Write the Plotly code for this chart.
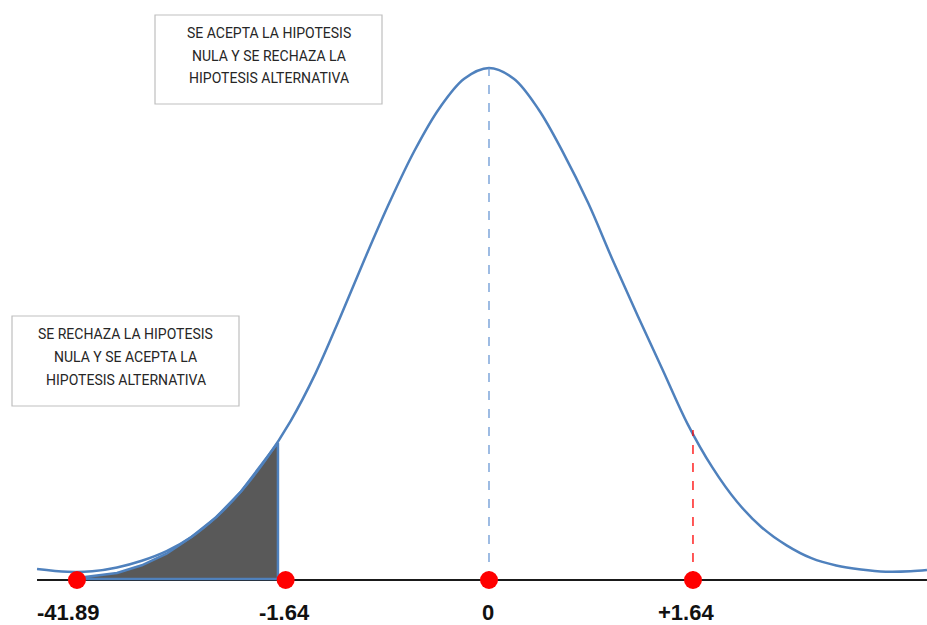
import plotly.graph_objects as go

# ---- data (x in standard-score units, y as density) ----
curve_x = [-3.645, -3.4, -3.2, -3.0, -2.8, -2.6, -2.4, -2.2, -2.0, -1.8,
           -1.6, -1.4, -1.2, -1.0, -0.8, -0.6, -0.4, -0.2, 0.0, 0.2,
           0.4, 0.6, 0.8, 1.0, 1.2, 1.4, 1.6, 1.8, 2.0, 2.2,
           2.4, 2.6, 2.8, 3.0, 3.2, 3.4, 3.532]
curve_y = [0.0086, 0.0064, 0.0068, 0.0098, 0.0150, 0.0225, 0.0335, 0.0490, 0.0690, 0.0940,
           0.1240, 0.1610, 0.2050, 0.2510, 0.2950, 0.3350, 0.3680, 0.3910, 0.3994, 0.3910,
           0.3670, 0.3330, 0.2940, 0.2490, 0.2060, 0.1640, 0.1220, 0.0880, 0.0610, 0.0410,
           0.0270, 0.0170, 0.0113, 0.0082, 0.0065, 0.0068, 0.0078]

shade_x = [-3.323, -3.0, -2.8, -2.6, -2.4, -2.2, -2.0, -1.8, -1.702, -1.702, -3.323]
shade_y = [0.0016, 0.0055, 0.0115, 0.0205, 0.0335, 0.0490, 0.0690, 0.0940, 0.1070, 0.0008, 0.0008]

point_x = [-3.323, -1.64, 0.0, 1.645]
point_labels = ["-41.89", "-1.64", "0", "+1.64"]
peak_y = 0.3994
crit_y = 0.1170

box_accept = ["SE ACEPTA LA HIPOTESIS", "NULA Y SE RECHAZA LA", "HIPOTESIS ALTERNATIVA"]
box_reject = ["SE RECHAZA LA HIPOTESIS", "NULA Y SE ACEPTA LA", "HIPOTESIS ALTERNATIVA"]

BLUE = "#4F81BD"
W, H = 927, 625
PX_PER_Z = 124.0
Z0_PX = 489.0
Y_PER_PX = 0.00078
BASE_PX = 580.0

x_range = [(0 - Z0_PX) / PX_PER_Z, (W - Z0_PX) / PX_PER_Z]
y_range = [(BASE_PX - H) * Y_PER_PX, BASE_PX * Y_PER_PX]

fig = go.Figure()

# shaded rejection region
fig.add_trace(go.Scatter(x=shade_x, y=shade_y, fill="toself", fillcolor="#595959",
                         mode="lines", line=dict(color=BLUE, width=2.5),
                         hoverinfo="skip", showlegend=False))

# bell curve
fig.add_trace(go.Scatter(x=curve_x, y=curve_y, mode="lines",
                         line=dict(color=BLUE, width=2.5, shape="spline", smoothing=1.0),
                         showlegend=False))

# dashed guide lines
fig.add_trace(go.Scatter(x=[point_x[2], point_x[2]], y=[0, peak_y], mode="lines",
                         line=dict(color="#6A98D4", width=1.3, dash="dash"), showlegend=False))
fig.add_trace(go.Scatter(x=[point_x[3], point_x[3]], y=[0, crit_y], mode="lines",
                         line=dict(color="#FF0000", width=1.3, dash="dash"), showlegend=False))

# baseline
fig.add_shape(type="line", x0=curve_x[0], x1=curve_x[-1], y0=0, y1=0,
              line=dict(color="#1a1a1a", width=1.8), layer="below")

# red points
fig.add_trace(go.Scatter(x=point_x, y=[0] * len(point_x), mode="markers",
                         marker=dict(color="#FF0000", size=18), cliponaxis=False,
                         showlegend=False))

# point labels
label_shift = [-9, -1, -1, -7]
for xv, lab, sh in zip(point_x, point_labels, label_shift):
    fig.add_annotation(x=xv, y=0, text="<b>%s</b>" % lab, showarrow=False,
                       xshift=sh, yshift=-32,
                       font=dict(family="Liberation Sans, Arial", size=22, color="#111111"))

# text boxes
def add_box(x0, y0, x1, y1, lines, line_ys):
    fig.add_shape(type="rect", xref="paper", yref="paper",
                  x0=x0 / W, x1=x1 / W, y0=(H - y1) / H, y1=(H - y0) / H,
                  line=dict(color="#BFBFBF", width=1.2), fillcolor="white")
    for txt, ly in zip(lines, line_ys):
        fig.add_annotation(xref="paper", yref="paper", x=(x0 + x1) / 2 / W,
                           y=(H - ly) / H, text=txt, showarrow=False,
                           xanchor="center", yanchor="middle",
                           font=dict(family="Liberation Sans Narrow, Roboto, Arial", size=14,
                                     color="#262626"))

add_box(155, 15, 382, 104, box_accept, [33, 56, 78])
add_box(12, 316, 239, 406, box_reject, [334, 357, 380])

fig.update_layout(
    width=W, height=H, margin=dict(l=0, r=0, t=0, b=0),
    paper_bgcolor="white", plot_bgcolor="white",
    xaxis=dict(range=x_range, visible=False, fixedrange=True),
    yaxis=dict(range=y_range, visible=False, fixedrange=True),
    showlegend=False,
)

fig.write_html("out.html", config={"displayModeBar": False},
               post_script="document.body.style.margin='0';document.body.style.overflow='hidden';")
